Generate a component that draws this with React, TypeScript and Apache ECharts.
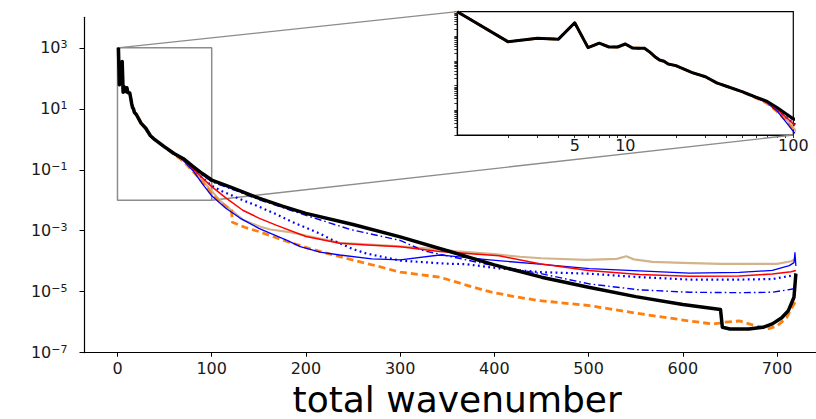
import React, { useEffect, useRef } from "react";
import * as echarts from "echarts";

// shared low-wavenumber part (all runs coincide there)
const HEAD_K = [1, 2, 3, 4, 5, 6, 7, 8, 9, 10, 11, 12, 13, 14, 15, 16, 17, 18, 20, 25, 30, 35, 40];
const HEAD_V = [1000, 61, 83, 77, 357, 35, 53, 37, 37, 49, 34, 33, 33, 23, 15, 11, 9.8, 7.6, 6.5, 3.4, 2.3, 1.3, 0.95];

const BLACK_K = [50, 60, 70, 80, 90, 100, 120, 150, 175, 200, 250, 300, 350, 400, 450, 500, 550, 600, 640, 642, 650, 670, 685, 695, 705, 712, 718, 720];
const BLACK_V = [0.56, 0.34, 0.23, 0.13, 0.075, 0.046, 0.027, 0.0117, 0.0064, 0.0037, 1.6e-3, 6.3e-4, 2.2e-4, 7.6e-5, 3.0e-5, 1.4e-5, 6.9e-6, 3.8e-6, 2.6e-6, 6.8e-7, 6e-7, 6e-7, 6.8e-7, 8.8e-7, 1.4e-6, 2.4e-6, 6.6e-6, 3.9e-5];

const RED_K = [50, 60, 70, 80, 90, 100, 115, 133, 150, 169, 200, 236, 265, 300, 342, 405, 448, 500, 554, 607, 660, 695, 715, 720];
const RED_V = [0.55, 0.33, 0.21, 0.11, 0.055, 0.028, 0.012, 4.7e-3, 2.6e-3, 1.5e-3, 6.5e-4, 3.9e-4, 3.4e-4, 3.0e-4, 2.1e-4, 1.5e-4, 8.3e-5, 5e-5, 3.7e-5, 3.2e-5, 3.3e-5, 3.8e-5, 4.5e-5, 5e-5];

const TAN_K = [50, 60, 70, 80, 90, 100, 110, 121, 133, 150, 162, 183, 200, 236, 300, 345, 360, 400, 427, 450, 497, 530, 540, 548, 568, 600, 640, 700, 715, 720];
const TAN_V = [0.55, 0.33, 0.2, 0.1, 0.045, 0.02, 0.009, 4.7e-3, 2.3e-3, 1.4e-3, 1.1e-3, 9e-4, 7e-4, 4.0e-4, 3.1e-4, 2.4e-4, 2.1e-4, 1.7e-4, 1.4e-4, 1.25e-4, 1.1e-4, 1.2e-4, 1.45e-4, 1.15e-4, 9.5e-5, 8.8e-5, 8.2e-5, 8.2e-5, 1.0e-4, 1.2e-4];

const ORANGE_K = [50, 60, 70, 80, 90, 100, 110, 121, 122, 135, 151, 175, 204, 236, 275, 300, 342, 378, 395, 420, 448, 501, 554, 607, 632, 645, 660, 675, 690, 700, 710, 716, 720];
const ORANGE_V = [0.55, 0.32, 0.19, 0.09, 0.04, 0.016, 8e-3, 4.7e-3, 1.9e-3, 1.3e-3, 9.2e-4, 5e-4, 2.6e-4, 1.4e-4, 7e-5, 4.4e-5, 3e-5, 1.4e-5, 1e-5, 7e-6, 5.1e-6, 3.5e-6, 1.9e-6, 1.1e-6, 8.7e-7, 1.0e-6, 1.1e-6, 8e-7, 6e-7, 7.5e-7, 1.4e-6, 3.1e-6, 5e-6];

const BLUE_K = [50, 60, 70, 80, 90, 100, 115, 130, 150, 180, 194, 215, 236, 270, 300, 342, 352, 395, 448, 501, 554, 607, 660, 695, 713, 718, 719, 720];
const BLUE_V = [0.55, 0.33, 0.2, 0.095, 0.035, 0.014, 5.5e-3, 2.6e-3, 1.2e-3, 4.8e-4, 3e-4, 2e-4, 1.6e-4, 1.2e-4, 1.1e-4, 1.6e-4, 1.5e-4, 1.1e-4, 8e-5, 5.7e-5, 4.8e-5, 4.1e-5, 4.3e-5, 5e-5, 7.2e-5, 9e-5, 1.9e-4, 7e-5];

const DOT_K = [50, 60, 70, 80, 90, 100, 109, 130, 151, 170, 186, 200, 215, 229, 250, 264, 300, 349, 370, 405, 448, 501, 554, 607, 660, 695, 716, 720];
const DOT_V = [0.56, 0.34, 0.22, 0.11, 0.055, 0.03, 0.021, 0.011, 6e-3, 3.3e-3, 1.9e-3, 1.25e-3, 8e-4, 4.8e-4, 2.5e-4, 1.8e-4, 1.05e-4, 8.3e-5, 8e-5, 5.8e-5, 4.4e-5, 3.9e-5, 3e-5, 2.5e-5, 2.5e-5, 2.6e-5, 3.4e-5, 3.8e-5];

const DASHDOT_K = [50, 60, 70, 80, 90, 100, 125, 150, 175, 200, 247, 300, 325, 395, 448, 501, 554, 607, 660, 695, 715, 720];
const DASHDOT_V = [0.56, 0.34, 0.22, 0.12, 0.07, 0.04, 0.021, 0.0105, 0.0058, 0.0032, 1.1e-3, 4.8e-4, 2.2e-4, 7.6e-5, 4e-5, 1.8e-5, 1.15e-5, 9.6e-6, 9.3e-6, 9.6e-6, 1.2e-5, 1.3e-5];

const X_TICKS = [0, 100, 200, 300, 400, 500, 600, 700];
const Y_TICKS = [1e-7, 1e-5, 1e-3, 1e-1, 1e1, 1e3];
const INSET_X_LABELS = [5, 10, 100];
const INSET_X_TICKS = [2, 3, 4, 5, 6, 7, 8, 9, 10, 20, 30, 40, 50, 60, 70, 80, 90, 100];
const ZOOM_X = [0, 100];
const ZOOM_Y = [1e-2, 1e3];
const INSET_X = [1, 100];
const X_LABEL = "total wavenumber";

const FONT = "DejaVu Sans";

function pairs(ks: number[], vs: number[]) {
  return ks.map((k, i) => [k, vs[i]]);
}
function withHead(ks: number[], vs: number[]) {
  return pairs(HEAD_K, HEAD_V).concat(pairs(ks, vs));
}

const fmtPow = (v: number) => {
  const e = Math.round(Math.log10(v));
  const s = e < 0 ? "\u2212" + -e : String(e);
  return "{b|10}{s|" + s + "}";
};

export default function App() {
  const ref = useRef<HTMLDivElement>(null);
  useEffect(() => {
    if (!ref.current) return;
    const chart = echarts.init(ref.current, undefined, { renderer: "svg" });

    const specs = [
      { name: "tan", data: withHead(TAN_K, TAN_V), color: "#d2b48c", width: 2.2, type: "solid" as any },
      { name: "orange", data: withHead(ORANGE_K, ORANGE_V), color: "#ff7f0e", width: 2.8, type: [7, 4] },
      { name: "blue", data: withHead(BLUE_K, BLUE_V), color: "#0000ff", width: 1.3, type: "solid" },
      { name: "blue dotted", data: withHead(DOT_K, DOT_V), color: "#0000ff", width: 2.2, type: [1.8, 3.4] },
      { name: "blue dashdot", data: withHead(DASHDOT_K, DASHDOT_V), color: "#0000ff", width: 1.4, type: [7, 3, 1.6, 3] },
      { name: "red", data: withHead(RED_K, RED_V), color: "#ff0000", width: 1.5, type: "solid" },
      { name: "black", data: withHead(BLACK_K, BLACK_V), color: "#000000", width: 3.5, type: "solid" },
    ];

    const series: any[] = [];
    const rect = [
      [ZOOM_X[0], ZOOM_Y[1]],
      [ZOOM_X[1], ZOOM_Y[1]],
      [ZOOM_X[1], ZOOM_Y[0]],
      [ZOOM_X[0], ZOOM_Y[0]],
      [ZOOM_X[0], ZOOM_Y[1]],
    ];
    series.push({
      type: "line",
      xAxisIndex: 0,
      yAxisIndex: 0,
      data: rect,
      symbol: "none",
      silent: true,
      z: 1,
      lineStyle: { color: "#8c8c8c", width: 1.5 },
    });
    [0, 1].forEach((gi) => {
      specs.forEach((s, i) => {
        series.push({
          type: "line",
          name: s.name,
          xAxisIndex: gi,
          yAxisIndex: gi,
          data: s.data,
          symbol: "none",
          silent: true,
          clip: true,
          z: 2 + i,
          lineStyle: { color: s.color, width: gi === 1 && s.name === "black" ? 3 : s.width, type: s.type, join: "round" },
        });
      });
    });

    const insetYTicks: number[] = [];
    for (let d = -2; d < 3; d++) {
      for (let m = 1; m < 10; m++) insetYTicks.push(m * Math.pow(10, d));
    }
    insetYTicks.push(1000);

    const labelStyle = { fontFamily: FONT, fontSize: 16, color: "#1a1a1a" };

    chart.setOption({
      animation: false,
      backgroundColor: "#ffffff",
      grid: [
        { left: 84.5, top: 17.3, width: 745.3, height: 335.4, containLabel: false, outerBoundsMode: "none" },
        {
          left: 457.3, top: 11.7, width: 336, height: 123.3, containLabel: false, outerBoundsMode: "none",
          show: true, borderColor: "#000", borderWidth: 1.2, backgroundColor: "#fff",
        },
      ],
      xAxis: [
        {
          type: "value", gridIndex: 0, min: -35, max: 756,
          axisLine: { show: true, onZero: false, lineStyle: { color: "#000", width: 1.2 } },
          axisTick: { show: true, customValues: X_TICKS, length: 4, lineStyle: { color: "#000", width: 1 } },
          axisLabel: { customValues: X_TICKS, margin: 8, ...labelStyle },
          splitLine: { show: false },
          name: X_LABEL, nameLocation: "middle", nameGap: 30,
          nameTextStyle: { fontFamily: FONT, fontSize: 36, lineHeight: 32, color: "#000" },
        },
        {
          type: "log", logBase: 10, gridIndex: 1, min: INSET_X[0], max: INSET_X[1],
          axisLine: { show: true, onZero: false, lineStyle: { color: "#000", width: 1.2 } },
          axisTick: { show: true, customValues: INSET_X_TICKS, length: 3, lineStyle: { color: "#000", width: 0.8 } },
          axisLabel: { customValues: INSET_X_LABELS, margin: 2, ...labelStyle },
          splitLine: { show: false },
        },
      ],
      yAxis: [
        {
          type: "log", logBase: 10, gridIndex: 0, min: 1e-7, max: 1e4,
          axisLine: { show: true, onZero: false, lineStyle: { color: "#000", width: 1.2 } },
          axisTick: { show: true, customValues: Y_TICKS, length: 5, lineStyle: { color: "#000", width: 1 } },
          axisLabel: {
            customValues: Y_TICKS, margin: 17, formatter: fmtPow,
            rich: {
              b: { fontFamily: FONT, fontSize: 16, lineHeight: 18, color: "#1a1a1a" },
              s: { fontFamily: FONT, fontSize: 11, lineHeight: 11, verticalAlign: "top", color: "#1a1a1a" },
            },
          },
          splitLine: { show: false },
        },
        {
          type: "log", logBase: 10, gridIndex: 1, min: ZOOM_Y[0], max: ZOOM_Y[1],
          axisLine: { show: true, onZero: false, lineStyle: { color: "#000", width: 1.2 } },
          axisTick: { show: true, customValues: insetYTicks, length: 3, lineStyle: { color: "#000", width: 0.8 } },
          axisLabel: { show: false },
          splitLine: { show: false },
        },
      ],
      series,
    });

    const a = chart.convertToPixel({ xAxisIndex: 0, yAxisIndex: 0 } as any, [ZOOM_X[0], ZOOM_Y[1]]) as number[];
    const b = chart.convertToPixel({ xAxisIndex: 1, yAxisIndex: 1 } as any, [INSET_X[0], ZOOM_Y[1]]) as number[];
    const c = chart.convertToPixel({ xAxisIndex: 0, yAxisIndex: 0 } as any, [ZOOM_X[1], ZOOM_Y[0]]) as number[];
    const d = chart.convertToPixel({ xAxisIndex: 1, yAxisIndex: 1 } as any, [INSET_X[1], ZOOM_Y[0]]) as number[];
    if (a && b && c && d) {
      chart.setOption({
        graphic: [
          { type: "line", silent: true, z: 1, shape: { x1: a[0], y1: a[1], x2: b[0], y2: b[1] }, style: { stroke: "#8c8c8c", lineWidth: 1.3 } },
          { type: "line", silent: true, z: 1, shape: { x1: c[0], y1: c[1], x2: d[0], y2: d[1] }, style: { stroke: "#8c8c8c", lineWidth: 1.3 } },
        ],
      });
    }

    return () => chart.dispose();
  }, []);

  return (
    <div
      ref={ref}
      style={{ position: "fixed", left: 0, top: 0, width: 816, height: 419, background: "#fff" }}
    />
  );
}
